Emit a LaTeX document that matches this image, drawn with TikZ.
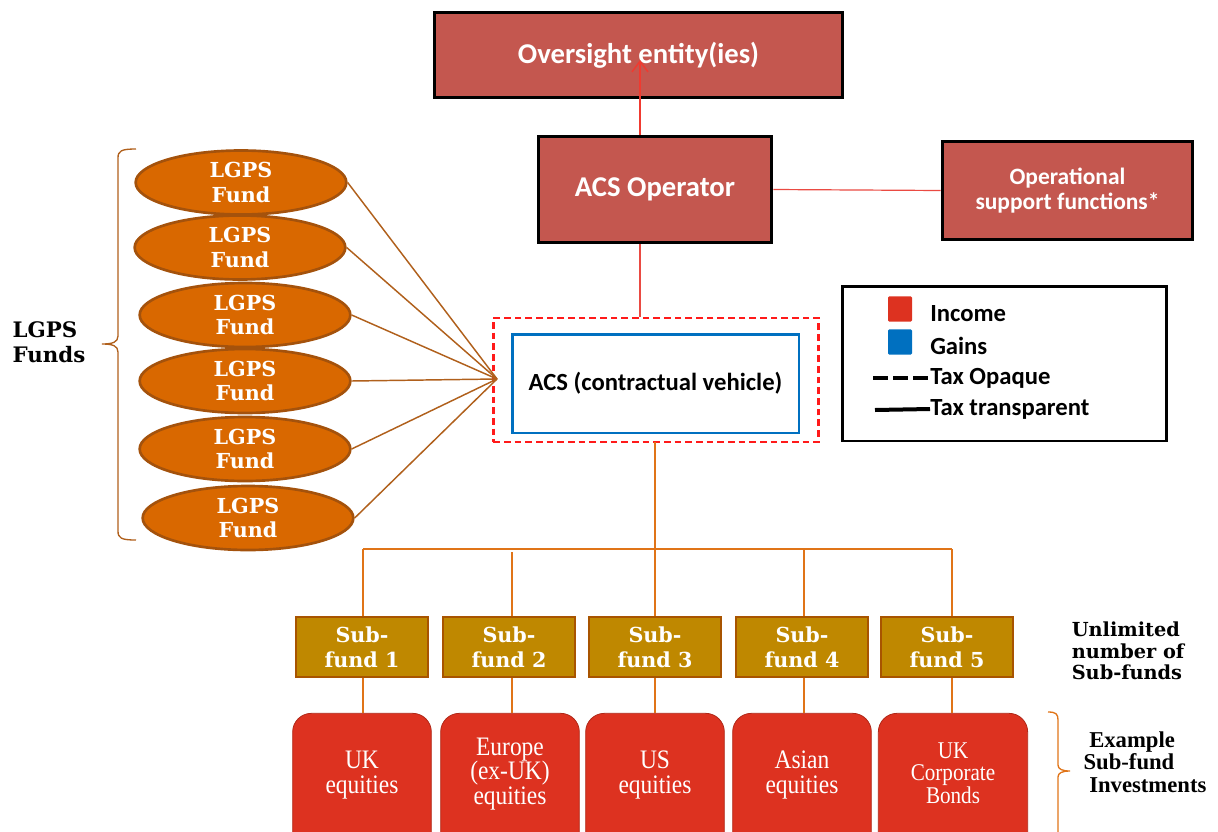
\documentclass[tikz,border=0pt]{standalone}
\usepackage{fontspec}
\setmainfont{Liberation Serif}
\newfontfamily\calfont{Carlito}
\newfontfamily\geofont{DejaVu Serif}
\newfontfamily\narrowfont[FakeStretch=0.88]{Liberation Serif}
\usetikzlibrary{shapes.geometric,arrows.meta}
\definecolor{boxred}{HTML}{C4574F}
\definecolor{linered}{HTML}{EA4A42}
\definecolor{arrowred}{HTML}{F03A30}
\definecolor{orangefill}{HTML}{D96800}
\definecolor{orangeedge}{HTML}{A4520C}
\definecolor{brownline}{HTML}{B0601C}
\definecolor{goldfill}{HTML}{BF8800}
\definecolor{goldedge}{HTML}{A85400}
\definecolor{busline}{HTML}{E07418}
\definecolor{invred}{HTML}{DD3220}
\definecolor{invedge}{HTML}{B02818}
\definecolor{gainblue}{HTML}{0070C0}
\definecolor{dashred}{HTML}{FF1A1A}
\tikzset{
  topbox/.style={draw=black, line width=2.4pt, fill=boxred, text=white,
    font=\calfont\bfseries\fontsize{21.5}{21.5}\selectfont, align=center, inner sep=0pt},
  fundell/.style={ellipse, draw=orangeedge, line width=2pt, fill=orangefill, text=white,
    inner sep=0pt, minimum width=158pt, minimum height=48pt, align=center,
    font=\geofont\bfseries\fontsize{15.5}{18.5}\selectfont},
  subbox/.style={draw=goldedge, line width=2.2pt, fill=goldfill, text=white,
    minimum width=99pt, minimum height=45pt, inner sep=0pt, align=center,
    font=\geofont\bfseries\fontsize{15.5}{19}\selectfont},
  invbox/.style={draw=invedge, line width=0.6pt, fill=invred, text=white, rounded corners=14pt,
    minimum width=104pt, minimum height=160pt, inner sep=0pt, align=center},
  invtext/.style={text=white, align=center, font=\narrowfont\fontsize{20}{18.5}\selectfont},
  redline/.style={draw=linered, line width=0.9pt},
  fundline/.style={draw=brownline, line width=1.1pt},
  bus/.style={draw=busline, line width=1.3pt},
  sidelabel/.style={font=\geofont\bfseries\fontsize{16}{18.5}\selectfont, align=left, inner sep=0pt},
  legtext/.style={font=\calfont\bfseries\fontsize{18.5}{18.5}\selectfont, anchor=west, inner sep=0pt}
}
\begin{document}
\begin{tikzpicture}[x=0.75pt,y=-0.75pt]
\path[use as bounding box] (0,0) rectangle (1218,832);
\clip (0,0) rectangle (1218,832);
% top boxes
\node[topbox, minimum width=306pt, minimum height=64pt] (over) at (638.5,55) {Oversight entity(ies)};
\node[topbox, minimum width=175pt, minimum height=80pt] (op) at (655,189.5) {ACS Operator};
\node[topbox, minimum width=188pt, minimum height=74pt, font=\calfont\bfseries\fontsize{17.6}{19}\selectfont] (sup) at (1067.5,190.5) {Operational\\support functions*};
% ACS
\node[draw=dashred, dashed, dash pattern=on 5pt off 3pt, line width=2pt, minimum width=244pt, minimum height=93pt, inner sep=0pt] (dash) at (656,380) {};
\node[draw=gainblue, line width=2pt, minimum width=215pt, minimum height=74pt, inner sep=0pt,
  font=\calfont\bfseries\fontsize{18.5}{18.5}\selectfont] (acs) at (655.5,383.5) {ACS (contractual vehicle)};
% connectors top
\coordinate (arrowtip) at (640,60);
\draw[draw=arrowred, line width=1pt, -{Straight Barb[length=8pt,width=12pt,line width=1.1pt]}] (op.north -| arrowtip) -- (arrowtip);
\draw[redline] (op.east) -- (sup.west);
\draw[redline] (op.south -| 640,0) -- (dash.north -| 640,0);
% legend
\node[draw=black, line width=2pt, minimum width=243pt, minimum height=116pt, inner sep=0pt] (leg) at (1004.5,363.5) {};
\node[fill=invred, minimum width=18pt, minimum height=19pt, inner sep=0pt, rounded corners=1pt] (incsq) at (900,309) {};
\node[fill=gainblue, minimum width=18pt, minimum height=19pt, inner sep=0pt, rounded corners=1pt] (gainsq) at (900,342) {};
\node[legtext] (inc) at (930,314) {Income};
\node[legtext] (gain) at (930,346) {Gains};
\node[legtext] (opq) at (930,378) {Tax Opaque};
\node[legtext] (trn) at (930,409) {Tax transparent};
\coordinate (dashst) at (873,378);
\coordinate (solst) at (875,410);
\draw[line width=3pt, dash pattern=on 11pt off 4pt] (dashst) -- (opq.west);
\draw[line width=3pt] (solst) -- (trn.west);
% LGPS funds
\node[fundell] (f1) at (241,182.5) {LGPS\\Fund};
\node[fundell] (f2) at (240,247.5) {LGPS\\Fund};
\node[fundell] (f3) at (245,315) {LGPS\\Fund};
\node[fundell] (f4) at (245,381) {LGPS\\Fund};
\node[fundell] (f5) at (245,449) {LGPS\\Fund};
\node[fundell] (f6) at (248,518) {LGPS\\Fund};
\coordinate (hub) at (497,379);
\foreach \f in {f1,f2,f3,f4,f5,f6} \draw[fundline] (\f.east) -- (hub);
% left brace
\coordinate (bt) at (136,149);
\coordinate (bb) at (136,540);
\draw[draw=brownline, line width=1pt] (bt) .. controls (121,149) and (118,151) .. (118,158) -- (118,336)
  .. controls (118,342) and (113,344) .. (102,344) .. controls (113,344) and (118,346) .. (118,352)
  -- (118,531) .. controls (118,538) and (121,540) .. (bb);
\node[sidelabel] (lgpslab) at (49,342) {LGPS\\Funds};
% sub-funds
\node[subbox] (s1) at (362,647) {Sub-\\fund 1};
\node[subbox] (s2) at (509,647) {Sub-\\fund 2};
\node[subbox] (s3) at (655,647) {Sub-\\fund 3};
\node[subbox] (s4) at (802,647) {Sub-\\fund 4};
\node[subbox] (s5) at (947,647) {Sub-\\fund 5};
\coordinate (busL) at (363,549);
\coordinate (busR) at (952,549);
\draw[bus] (655,442) -- (655,549);
\draw[bus] (busL) -- (busR);
\draw[bus] (busL) -- (363,616);
\draw[bus] (512,552) -- (512,616);
\draw[bus] (655,549) -- (655,616);
\draw[bus] (804,549) -- (804,616);
\draw[bus] (952,549) -- (952,616);
% investments
\node[invbox] (i1) at (362,820) {};
\node[invbox] (i2) at (510,820) {};
\node[invbox] (i3) at (655,820) {};
\node[invbox] (i4) at (802,820) {};
\node[invbox, minimum width=112pt] (i5) at (953,820) {};
\node[invtext] (t1) at (362,775) {UK\\equities};
\node[invtext] (t2) at (510,774) {Europe\\(ex-UK)\\equities};
\node[invtext] (t3) at (655,775) {US\\equities};
\node[invtext] (t4) at (802,775) {Asian\\equities};
\node[invtext, font=\narrowfont\fontsize{18}{17}\selectfont] (t5) at (953,773) {UK\\Corporate\\Bonds};
\foreach \a/\b/\x in {s1/i1/363,s2/i2/512,s3/i3/655,s4/i4/804,s5/i5/952}
  \draw[bus] (\x,678) -- (\x,713);
% right labels
\node[sidelabel, font=\geofont\bfseries\fontsize{14.5}{16}\selectfont] (unl) at (1128,651) {Unlimited\\number of\\Sub-funds};
\draw[draw=busline, line width=1pt] (1048,712) .. controls (1056,712) and (1058,714) .. (1058,720) -- (1058,765)
  .. controls (1058,769) and (1062,771) .. (1070,771) .. controls (1062,771) and (1058,773) .. (1058,777) -- (1058,832);
\node[sidelabel, font=\bfseries\fontsize{17}{17}\selectfont] (exlab) at (1145,762) {\ Example\\Sub-fund\\\ Investments};
\end{tikzpicture}
\end{document}
